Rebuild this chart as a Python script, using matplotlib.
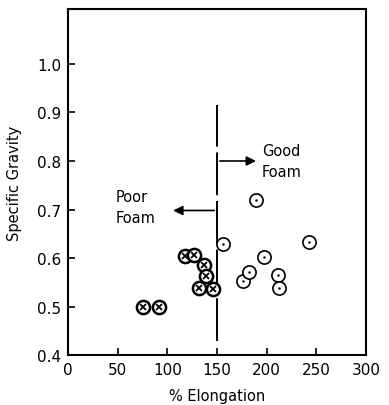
import matplotlib.pyplot as plt

# poor foam (crossed circles)
poor_x = [75, 92, 118, 127, 137, 138.5, 132, 146]
poor_y = [0.50, 0.50, 0.605, 0.606, 0.586, 0.563, 0.538, 0.537]
# good foam (open circles)
good_x = [155.5, 189, 176, 182, 197, 211.5, 212.5, 243]
good_y = [0.628, 0.72, 0.553, 0.572, 0.602, 0.565, 0.538, 0.634]

xticks = [0, 50, 100, 150, 200, 250, 300]
yticks = [0.4, 0.5, 0.6, 0.7, 0.8, 0.9, 1.0]
ytick_labels = ["0.4", "0.5", "0.6", "0.7", "0.8", "0.9", "1.0"]

plt.rcParams['font.family'] = ['DejaVu Sans']
fig = plt.figure(figsize=(3.89, 4.06), dpi=100)
ax = fig.add_axes([0.175, 0.123, 0.766, 0.852])

# boundary line at 150 %
ax.plot([150, 150], [0.43, 0.915], color="black", lw=1.4, dashes=(22, 3))

ax.plot(poor_x, poor_y, "o", ms=9.5, mfc="white", mec="black", mew=1.8, ls="none")
ax.plot(poor_x, poor_y, "x", ms=5, mec="black", mew=1.3, ls="none")
ax.plot(good_x, good_y, "o", ms=9.5, mfc="white", mec="black", mew=1.2, ls="none")
ax.plot(good_x, good_y, ".", ms=1.5, color="black", ls="none")

ax.annotate("", xy=(192, 0.80), xytext=(150, 0.80),
            arrowprops=dict(arrowstyle="-|>", color="black", lw=1.2, mutation_scale=14))
ax.text(195, 0.80, "Good\nFoam", fontsize=10.5, va="center", ha="left", linespacing=1.5)
ax.annotate("", xy=(103, 0.698), xytext=(150, 0.698),
            arrowprops=dict(arrowstyle="-|>", color="black", lw=1.2, mutation_scale=14))
ax.text(48, 0.705, "Poor\nFoam", fontsize=10.5, va="center", ha="left", linespacing=1.5)

ax.set_xlim(0, 300)
ax.set_ylim(0.4, 1.113)
ax.set_xticks(xticks)
ax.set_yticks(yticks)
ax.set_yticklabels(ytick_labels)
ax.tick_params(direction="in", length=5, width=1.2, labelsize=11, pad=5)
for s in ax.spines.values():
    s.set_linewidth(1.5)
ax.set_xlabel("% Elongation", fontsize=10.5, labelpad=8)
ax.set_ylabel("Specific Gravity", fontsize=10.5, labelpad=11)

plt.savefig("out.png", dpi=100)
